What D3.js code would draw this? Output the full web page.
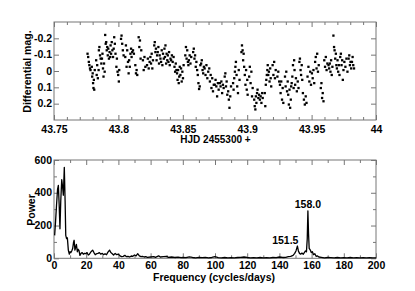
<!DOCTYPE html>
<html><head><meta charset="utf-8">
<script src="https://cdn.jsdelivr.net/npm/d3@7"></script>
<style>
body{margin:0;background:#fff}
svg{display:block}
text{font-family:"Liberation Sans Narrow","Liberation Sans",Arial,sans-serif;font-weight:bold;fill:#000}
.rot{font-family:"Liberation Sans",Arial,sans-serif}
</style>
</head><body>
<svg id="c" width="415" height="291"></svg>
<script>
// ---------- DATA ----------
// Light curve: [HJD - 2455300, differential magnitude]
const photometry = [
[43.7760,-0.106],[43.7765,-0.086],[43.7770,-0.056],[43.7774,-0.036],[43.7779,-0.016],[43.7783,-0.006],
[43.7793,-0.026],[43.7796,0.034],[43.7800,0.014],[43.7803,0.074],[43.7806,0.104],[43.7809,0.054],[43.7812,0.114],[43.7816,-0.006],
[43.7827,-0.066],[43.7831,0.024],[43.7835,-0.036],[43.7840,0.044],[43.7846,-0.006],
[43.7848,-0.127],[43.7852,-0.147],[43.7857,-0.096],[43.7862,-0.076],[43.7867,-0.046],
[43.7872,-0.076],[43.7876,-0.106],[43.7880,-0.016],[43.7884,0.034],[43.7888,-0.046],[43.7893,0.004],
[43.7897,-0.221],[43.7901,-0.167],[43.7905,-0.177],[43.7909,-0.127],[43.7913,-0.147],
[43.7917,-0.096],[43.7921,-0.137],[43.7926,-0.076],[43.7931,-0.116],[43.7936,-0.086],
[43.7939,-0.157],[43.7943,-0.106],[43.7948,-0.177],[43.7953,-0.127],[43.7958,-0.086],
[43.7963,-0.137],[43.7967,-0.207],[43.7972,-0.167],[43.7977,-0.106],
[43.7984,-0.026],[43.7988,-0.076],[43.7993,0.004],[43.7998,0.024],[43.8003,0.064],[43.8006,-0.006],
[43.8020,-0.197],[43.8024,-0.217],[43.8029,-0.167],[43.8034,-0.127],[43.8040,-0.096],
[43.8053,-0.086],[43.8058,-0.157],[43.8063,-0.026],[43.8068,-0.127],[43.8074,-0.056],
[43.8079,0.014],[43.8083,-0.066],[43.8088,-0.026],[43.8093,-0.106],[43.8098,-0.137],[43.8102,-0.086],
[43.8107,-0.116],[43.8113,-0.127],[43.8120,-0.106],
[43.8131,-0.036],[43.8136,0.014],[43.8141,-0.006],[43.8146,0.024],
[43.8157,-0.207],[43.8162,-0.147],[43.8167,-0.187],[43.8172,-0.076],[43.8177,-0.127],
[43.8190,-0.066],[43.8196,-0.006],[43.8202,-0.086],[43.8209,-0.026],
[43.8222,-0.036],[43.8228,-0.076],[43.8235,-0.016],[43.8242,-0.056],
[43.8248,-0.086],[43.8253,-0.046],[43.8258,-0.106],[43.8263,-0.016],[43.8268,-0.066],
[43.8278,-0.157],[43.8282,-0.177],[43.8287,-0.116],[43.8291,-0.137],[43.8296,-0.066],[43.8300,-0.096],
[43.8305,-0.116],[43.8310,-0.147],[43.8315,-0.046],[43.8320,-0.096],[43.8326,-0.076],
[43.8331,-0.056],[43.8336,-0.127],[43.8341,-0.036],[43.8346,-0.106],[43.8352,-0.076],
[43.8357,-0.137],[43.8361,-0.086],[43.8365,-0.157],[43.8370,-0.046],[43.8374,-0.106],[43.8379,-0.066],
[43.8383,-0.096],[43.8388,-0.056],[43.8393,-0.116],[43.8398,-0.036],[43.8404,-0.076],
[43.8409,-0.066],[43.8415,-0.096],[43.8421,-0.056],[43.8428,-0.086],
[43.8435,-0.026],[43.8440,0.004],[43.8445,-0.046],[43.8450,-0.006],
[43.8455,0.014],[43.8459,0.054],[43.8463,-0.006],[43.8468,0.074],[43.8472,0.034],[43.8476,-0.026],
[43.8481,0.024],[43.8486,-0.016],[43.8491,0.064],[43.8496,0.004],[43.8501,0.044],[43.8506,-0.036],
[43.8519,-0.096],[43.8524,-0.147],[43.8529,-0.076],[43.8534,-0.127],[43.8539,-0.056],[43.8543,-0.036],
[43.8547,-0.066],[43.8553,-0.096],[43.8559,-0.046],[43.8565,-0.086],
[43.8580,-0.116],[43.8585,-0.137],[43.8590,-0.076],[43.8595,-0.096],[43.8600,-0.026],[43.8605,-0.056],
[43.8611,-0.006],[43.8616,0.024],[43.8621,0.074],[43.8626,0.110],[43.8631,0.094],[43.8636,-0.036],
[43.8642,-0.046],[43.8647,-0.066],[43.8653,-0.006],[43.8658,0.014],[43.8663,-0.026],
[43.8669,-0.016],[43.8676,0.024],[43.8683,-0.036],[43.8690,0.044],[43.8697,0.004],[43.8705,-0.016],
[43.8710,0.064],[43.8716,0.024],[43.8722,0.104],[43.8728,0.044],[43.8734,0.124],[43.8740,0.084],
[43.8748,0.084],[43.8754,0.054],[43.8760,0.094],[43.8766,0.155],[43.8772,0.074],[43.8778,0.114],
[43.8787,0.074],[43.8793,0.094],[43.8799,0.064],[43.8805,0.135],[43.8811,0.084],[43.8817,0.104],
[43.8825,0.034],[43.8830,0.014],[43.8835,0.094],[43.8840,0.064],[43.8845,0.145],
[43.8852,0.124],[43.8857,0.175],[43.8862,0.225],[43.8868,0.155],[43.8874,0.094],
[43.8890,0.074],[43.8894,0.114],[43.8899,0.044],[43.8904,0.004],[43.8908,-0.026],[43.8912,-0.056],
[43.8917,0.024],[43.8922,0.094],[43.8928,0.135],[43.8934,-0.006],[43.8940,0.054],
[43.8955,-0.116],[43.8959,-0.157],[43.8964,-0.127],[43.8968,-0.066],[43.8972,-0.106],[43.8976,-0.026],
[43.8981,0.024],[43.8986,0.084],[43.8991,-0.006],[43.8996,0.114],[43.9000,0.054],[43.9003,0.145],
[43.9015,0.034],[43.9020,-0.026],[43.9026,0.074],[43.9032,0.004],[43.9037,0.155],[43.9042,0.104],
[43.9054,0.175],[43.9058,0.215],[43.9063,0.235],[43.9067,0.155],[43.9071,0.195],[43.9076,0.135],[43.9080,0.114],
[43.9086,0.165],[43.9092,0.145],[43.9098,0.175],[43.9104,0.155],[43.9110,0.195],[43.9116,0.135],[43.9120,0.165],
[43.9136,0.135],[43.9140,0.215],[43.9144,0.084],[43.9148,0.054],[43.9152,0.024],[43.9156,-0.006],[43.9159,-0.036],
[43.9163,0.024],[43.9168,0.004],[43.9173,0.064],[43.9178,-0.016],[43.9182,0.044],[43.9186,0.094],
[43.9197,-0.036],[43.9203,0.024],[43.9209,-0.056],[43.9215,0.044],[43.9221,-0.006],
[43.9234,0.034],[43.9241,0.004],[43.9248,0.064],
[43.9254,0.084],[43.9259,0.135],[43.9264,0.064],[43.9270,0.175],[43.9275,0.104],[43.9280,0.195],
[43.9293,0.034],[43.9298,0.094],[43.9303,0.004],[43.9309,0.124],[43.9314,0.064],
[43.9318,0.145],[43.9323,0.205],[43.9328,0.114],[43.9333,0.225],[43.9338,0.175],[43.9341,0.094],
[43.9345,0.074],[43.9350,0.034],[43.9355,-0.036],[43.9360,0.104],[43.9364,-0.066],[43.9367,-0.006],
[43.9372,0.084],[43.9378,0.044],[43.9385,0.124],[43.9392,0.064],[43.9398,0.104],
[43.9405,-0.056],[43.9409,-0.076],[43.9414,-0.006],[43.9418,0.024],[43.9423,-0.036],[43.9427,0.054],
[43.9432,0.135],[43.9440,0.175],[43.9447,0.205],[43.9454,0.155],[43.9460,0.195],
[43.9468,0.034],[43.9475,-0.026],[43.9482,0.064],[43.9489,0.004],[43.9495,0.084],
[43.9502,0.014],[43.9508,0.044],[43.9514,-0.006],[43.9520,0.074],
[43.9527,-0.056],[43.9532,-0.086],[43.9538,-0.016],[43.9543,-0.106],[43.9549,0.004],[43.9555,-0.036],
[43.9571,0.104],[43.9576,0.074],[43.9581,0.165],[43.9586,0.135],[43.9592,0.185],
[43.9598,-0.066],[43.9604,-0.026],[43.9610,-0.086],[43.9616,-0.006],[43.9622,-0.046],
[43.9631,-0.036],[43.9636,-0.016],[43.9641,-0.046],[43.9646,0.004],[43.9651,-0.066],[43.9656,0.024],[43.9661,-0.026],
[43.9669,-0.217],[43.9674,-0.147],[43.9678,-0.127],[43.9683,-0.076],[43.9688,-0.106],[43.9692,-0.036],
[43.9696,-0.016],[43.9701,-0.066],[43.9706,0.004],[43.9711,-0.036],[43.9716,0.024],
[43.9722,-0.086],[43.9727,-0.106],[43.9732,-0.036],[43.9737,-0.066],[43.9742,0.054],[43.9747,-0.006],
[43.9754,-0.056],[43.9762,-0.026],[43.9770,-0.076],[43.9778,0.004],
[43.9787,-0.076],[43.9792,-0.096],[43.9797,-0.036],[43.9802,-0.056],[43.9807,-0.016],
[43.9813,-0.056],[43.9818,-0.086],[43.9823,-0.036],[43.9829,-0.016]
];
const hjdDomain = [43.75, 44];
const hjdTicks = [43.75, 43.8, 43.85, 43.9, 43.95, 44];
const hjdTickLabels = ["43.75", "43.8", "43.85", "43.9", "43.95", "44"];
const hjdMinorTicks = [43.76,43.77,43.78,43.79,43.81,43.82,43.83,43.84,43.86,43.87,43.88,43.89,
                       43.91,43.92,43.93,43.94,43.96,43.97,43.98,43.99];
const magDomain = [-0.3, 0.3];
const magTicks = [-0.2, -0.1, 0, 0.1, 0.2];
const magTickLabels = ["-0.2", "-0.1", "0", "0.1", "0.2"];

// Power spectrum: [frequency (cycles/day), power]
const spectrum = [
[0.4,140],[1.0,230],[1.6,330],[2.2,420],[2.7,445],[3.2,330],[3.7,180],[4.2,350],[4.8,480],[5.3,440],
[5.8,385],[6.4,555],[6.9,350],[7.3,140],[7.8,120],[8.3,125],[8.9,50],[9.5,25],[10.0,40],[10.5,35],
[11.0,45],[11.6,60],[12.1,95],[12.5,110],[13.0,50],[13.5,70],[13.9,85],[14.5,40],[15.0,55],[15.5,48],
[16.1,18],[16.8,30],[17.5,35],[18.2,25],[19.0,30],[19.8,28],[20.5,35],[21.3,20],[22.0,25],[23.0,40],
[24.0,50],[24.8,35],[25.6,22],[26.5,28],[27.3,30],[28.2,35],[29.0,25],[30.0,30],[30.8,22],[31.7,28],
[32.6,22],[33.5,38],[34.5,50],[35.3,35],[36.2,28],[37.0,20],[38.0,30],[39.0,22],[40.0,25],[41.0,15],
[42.0,10],[43.0,12],[44.0,18],[45.0,10],[46.0,12],[47.0,8],[48.0,14],[49.0,12],[50.0,20],[51.0,15],
[52.0,28],[53.0,15],[54.0,10],[55.0,12],[56.0,8],[57.0,10],[58.0,6],[60.0,8],[62.0,10],[63.0,6],
[65.0,15],[66.0,8],[68.0,10],[70.0,12],[71.0,6],[73.0,8],[75.0,5],[77.0,7],[79.0,4],[80.0,6],
[82.0,4],[84.0,9],[86.0,5],[88.0,3],[90.0,6],[92.0,4],[94.0,6],[96.0,3],[98.0,5],[100.0,10],
[102.0,4],[104.0,3],[106.0,5],[108.0,3],[110.0,4],[112.0,3],[114.0,5],[116.0,6],[118.0,8],[120.0,5],
[122.0,3],[124.0,4],[126.0,3],[128.0,5],[130.0,3],[132.0,4],[134.0,3],[136.0,5],[138.0,4],[140.0,8],
[142.0,5],[144.0,6],[145.5,10],[147.0,12],[148.5,18],[149.5,30],[150.3,45],[151.2,75],[151.8,45],[152.5,30],
[153.2,25],[154.0,32],[154.8,25],[155.5,35],[156.2,45],[156.8,40],[157.3,120],[157.7,290],[158.1,150],[158.5,60],
[159.2,50],[159.8,35],[160.5,40],[161.2,22],[162.0,28],[162.8,12],[163.5,15],[164.5,8],[166.0,6],[168.0,3],
[170.0,5],[172.0,4],[174.0,3],[176.0,5],[178.0,3],[180.0,4],[182.0,3],[184.0,5],[186.0,3],[188.0,4],
[190.0,3],[192.0,4],[194.0,3],[196.0,4],[198.0,3],[200.0,3]
];
const freqDomain = [0, 200];
const freqTicks = [0, 20, 40, 60, 80, 100, 120, 140, 160, 180, 200];
const freqMinorTicks = [10, 30, 50, 70, 90, 110, 130, 150, 170, 190];
const powerDomain = [0, 600];
const powerTicks = [0, 200, 400, 600];
const powerMinorTicks = [100, 300, 500];
const peakLabels = [
  {freq: 151.2, power: 75, text: "151.5", anchor: "end", dx: 1, dy: -2},
  {freq: 157.7, power: 290, text: "158.0", anchor: "middle", dx: 0, dy: -3}
];

// ---------- LAYOUT ----------
const svg = d3.select("#c");
const L = 54, R = 376;
const top1 = 22, bot1 = 120;
const top2 = 160, bot2 = 258.3;
const frameCol = "#777";

function panel(x, y, xMaj, xMin, yMaj, yMin, xFmt, y0, y1, xPad) {
  const g = svg.append("g");
  const ax = (axis, tr) => {
    const a = g.append("g").attr("transform", tr).call(axis);
    a.select(".domain").remove();
    a.selectAll("line").attr("stroke", frameCol);
    a.selectAll("text").attr("font-size", 10.5).attr("font-family", null).attr("fill", "#000");
    return a;
  };
  ax(d3.axisBottom(x).tickValues(xMaj).tickSize(-5).tickPadding(xPad).tickFormat(xFmt), `translate(0,${y1})`);
  ax(d3.axisBottom(x).tickValues(xMin).tickSize(-3).tickFormat(""), `translate(0,${y1})`);
  ax(d3.axisTop(x).tickValues(xMaj).tickSize(-5).tickFormat(""), `translate(0,${y0})`);
  ax(d3.axisTop(x).tickValues(xMin).tickSize(-3).tickFormat(""), `translate(0,${y0})`);
  ax(d3.axisLeft(y).tickValues(yMaj).tickSize(-5).tickFormat(""), `translate(${L},0)`);
  if (yMin.length) ax(d3.axisLeft(y).tickValues(yMin).tickSize(-3).tickFormat(""), `translate(${L},0)`);
  ax(d3.axisRight(y).tickValues(yMaj).tickSize(-5).tickFormat(""), `translate(${R},0)`);
  if (yMin.length) ax(d3.axisRight(y).tickValues(yMin).tickSize(-3).tickFormat(""), `translate(${R},0)`);
  g.append("rect").attr("x", L).attr("y", y0).attr("width", R - L).attr("height", y1 - y0)
    .attr("fill", "none").attr("stroke", frameCol).attr("stroke-width", 1);
  return g;
}

// y tick labels drawn explicitly (so the minus sign is kept as typed)
function yLabels(y, values, labels) {
  svg.append("g").selectAll("text").data(values).join("text")
    .attr("x", L - 2).attr("y", d => y(d)).attr("dy", "0.34em")
    .attr("text-anchor", "end").attr("font-size", 10.5)
    .text((d, i) => labels[i]);
}

// ---------- TOP PANEL ----------
const xT = d3.scaleLinear().domain(hjdDomain).range([L, R]);
const yT = d3.scaleLinear().domain(magDomain).range([top1, bot1]);
panel(xT, yT, hjdTicks, hjdMinorTicks, magTicks, [],
  (d, i) => hjdTickLabels[i], top1, bot1, 5.8);
yLabels(yT, magTicks, magTickLabels);

svg.append("g").selectAll("rect").data(photometry).join("rect")
  .attr("x", d => xT(d[0]) - 1.1).attr("y", d => yT(d[1]) - 1.1)
  .attr("width", 2.3).attr("height", 2.3).attr("fill", "#000");

svg.append("text").attr("x", 215.5).attr("y", 143).attr("text-anchor", "middle")
  .attr("font-size", 10).text("HJD 2455300 +");
svg.append("text").attr("class", "rot").attr("transform", "translate(31,71.5) rotate(-90)")
  .attr("text-anchor", "middle").attr("font-size", 10.5).text("Differential mag.");

// ---------- BOTTOM PANEL ----------
const xB = d3.scaleLinear().domain(freqDomain).range([L, R]);
const yB = d3.scaleLinear().domain(powerDomain).range([bot2, top2]);
panel(xB, yB, freqTicks, freqMinorTicks, powerTicks, powerMinorTicks,
  d => String(d), top2, bot2, 3.2);
yLabels(yB, powerTicks, powerTicks.map(String));

svg.append("path").datum(spectrum)
  .attr("d", d3.line().x(d => xB(d[0])).y(d => yB(d[1])))
  .attr("fill", "none").attr("stroke", "#000").attr("stroke-width", 1.3)
  .attr("stroke-linejoin", "round");

svg.append("g").selectAll("text").data(peakLabels).join("text")
  .attr("x", d => xB(d.freq) + d.dx).attr("y", d => yB(d.power) + d.dy)
  .attr("text-anchor", d => d.anchor).attr("font-size", 10.5).text(d => d.text);

svg.append("text").attr("x", 214).attr("y", 280.6).attr("text-anchor", "middle")
  .attr("font-size", 10.5).text("Frequency (cycles/days)");
svg.append("text").attr("class", "rot").attr("transform", "translate(35,210) rotate(-90)")
  .attr("text-anchor", "middle").attr("font-size", 10.5).text("Power");
</script>
</body></html>
